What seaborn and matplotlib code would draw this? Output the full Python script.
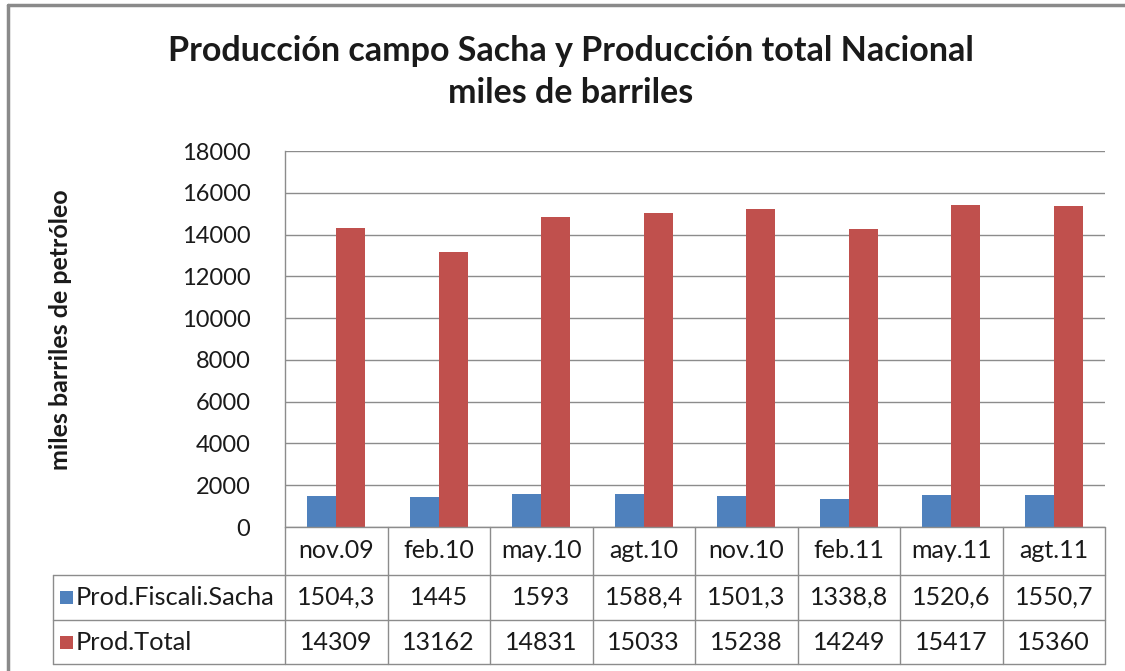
import pandas as pd
import matplotlib.pyplot as plt
import seaborn as sns
from matplotlib.patches import Rectangle
from matplotlib.lines import Line2D

meses = ["nov.09", "feb.10", "may.10", "agt.10", "nov.10", "feb.11", "may.11", "agt.11"]
sacha = [1504.3, 1445, 1593, 1588.4, 1501.3, 1338.8, 1520.6, 1550.7]
total = [14309, 13162, 14831, 15033, 15238, 14249, 15417, 15360]
series_names = ["Prod.Fiscali.Sacha", "Prod.Total"]
colores = ["#4F81BD", "#C0504D"]
y_ticks = list(range(0, 18001, 2000))


def fmt_val(v):
    """Excel-style number with comma decimal."""
    if float(v).is_integer():
        return str(int(v))
    return f"{v:.1f}".replace(".", ",")


df = pd.DataFrame({
    "mes": meses * 2,
    "serie": [series_names[0]] * len(meses) + [series_names[1]] * len(meses),
    "valor": sacha + total,
})

sns.set_theme(style="white")
plt.rcParams["font.family"] = ["Lato", "DejaVu Sans"]

W, H = 1125, 671
fig = plt.figure(figsize=(W / 100, H / 100), dpi=100)

# outer chart frame (left and top edges visible)
fig.add_artist(Line2D([8 / W, 8 / W], [0, 1 - 5 / H], color="#8a8a8a", lw=2.5))
fig.add_artist(Line2D([8 / W, 1], [1 - 5 / H, 1 - 5 / H], color="#8a8a8a", lw=2.5))

left, right, top, bottom = 285, 1105, 151, 527
ax = fig.add_axes([left / W, 1 - bottom / H, (right - left) / W, (bottom - top) / H])

sns.barplot(data=df, x="mes", y="valor", hue="serie", order=meses,
            hue_order=series_names, palette=colores, width=0.57, gap=0,
            saturation=1, ax=ax, legend=False, edgecolor="none")

grid_c = "#8c8c8c"
ax.set_ylim(0, 18000)
ax.set_xlim(-0.5, len(meses) - 0.5)
ax.set_yticks(y_ticks)
ax.set_yticklabels([str(t) for t in y_ticks], fontsize=17, color="#1a1a1a")
ax.tick_params(axis="y", length=0, pad=25)
ax.set_xticks([])
ax.set_xlabel("")
ax.set_ylabel("")
ax.yaxis.grid(True, color=grid_c, lw=1)
ax.set_axisbelow(True)
for s in ["top", "right", "bottom"]:
    ax.spines[s].set_visible(False)
ax.spines["left"].set_color(grid_c)
ax.spines["left"].set_linewidth(1)

# data table below the plot area, in axes fraction units
ah = bottom - top
row_edges = [0, -48 / ah, -93 / ah, -137 / ah]
n = len(meses)
col_edges = [i / n for i in range(n + 1)]
leg_left = -(left - 53) / (right - left)
lkw = dict(color=grid_c, lw=1, transform=ax.transAxes, clip_on=False)

for y in row_edges[1:]:
    ax.add_line(Line2D([leg_left, 1], [y, y], **lkw))
ax.add_line(Line2D([0, 1], [0, 0], **lkw))
for x in col_edges:
    ax.add_line(Line2D([x, x], [0, row_edges[-1]], **lkw))
ax.add_line(Line2D([leg_left, leg_left], [row_edges[1], row_edges[-1]], **lkw))

tkw = dict(transform=ax.transAxes, ha="center", va="center", fontsize=18, color="#1a1a1a")
for i, m in enumerate(meses):
    xc = (i + 0.5) / n
    ax.text(xc, (row_edges[0] + row_edges[1]) / 2, m, **tkw)
    ax.text(xc, (row_edges[1] + row_edges[2]) / 2, fmt_val(sacha[i]), **tkw)
    ax.text(xc, (row_edges[2] + row_edges[3]) / 2, fmt_val(total[i]), **tkw)

sq_w = 13 / (right - left)
sq_h = 13 / ah
for k, (name, c) in enumerate(zip(series_names, colores)):
    yc = (row_edges[k + 1] + row_edges[k + 2]) / 2
    ax.add_patch(Rectangle((leg_left + 7 / (right - left), yc - sq_h / 2), sq_w, sq_h,
                           facecolor=c, edgecolor="none", transform=ax.transAxes, clip_on=False))
    ax.text(leg_left + 23 / (right - left), yc, name, transform=ax.transAxes,
            ha="left", va="center", fontsize=18.3, color="#1a1a1a")

fig.text(571 / W, 1 - 72 / H, "Producción campo Sacha y Producción total Nacional\nmiles de barriles",
         ha="center", va="center", fontsize=24.5, fontweight="bold", color="#1a1a1a",
         linespacing=1.35)
fig.text(60 / W, 1 - 330 / H, "miles barriles de petróleo", rotation=90,
         ha="center", va="center", fontsize=18, fontweight="bold", color="#1a1a1a")

fig.savefig("out.png", dpi=100, facecolor="white")
